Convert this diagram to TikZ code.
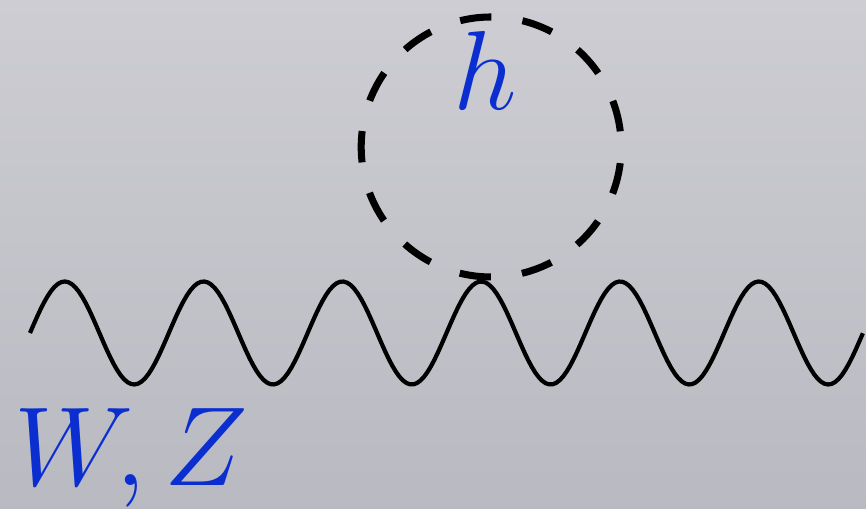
\documentclass[tikz,border=0pt]{standalone}
\usepackage{fix-cm}
\usepackage{xcolor}
\usetikzlibrary{calc,positioning,shadings}
\definecolor{bgtop}{RGB}{205,205,211}
\definecolor{bgbot}{RGB}{185,185,193}
\definecolor{fieldblue}{RGB}{10,46,208}
\tikzset{
  boson/.style={line width=1.2pt, line join=round},
  scalarloop/.style={draw, circle, line width=2pt, minimum size=2.6cm,
    inner sep=0pt, dash pattern=on 0.314cm off 0.314cm, dash phase=0.471cm},
  fieldlabel/.style={text=fieldblue, inner sep=0pt, font=\fontsize{32}{38}\selectfont}
}
\begin{document}
\begin{tikzpicture}
    % background
    \shade[top color=bgtop, bottom color=bgbot] (0,0) rectangle (8.66,5.09);
    \useasboundingbox (0,0) rectangle (8.66,5.09);
    % gauge boson line
    \draw[boson] plot[domain=0:6, samples=240]
      ({0.30+\x*1.3883},{1.76+0.515*sin(\x*360)});
    \coordinate (vtx) at (4.812,2.275);
    % higgs loop
    \node[scalarloop] (loop) at ($(vtx)+(0.10,1.345)$) {};
    \node[fieldlabel, anchor=base] (hlab) at (4.85,3.99) {$h$};
    \node[fieldlabel, anchor=base west] (wzlab) at (0.14,0.23) {$W,Z$};
\end{tikzpicture}
\end{document}
